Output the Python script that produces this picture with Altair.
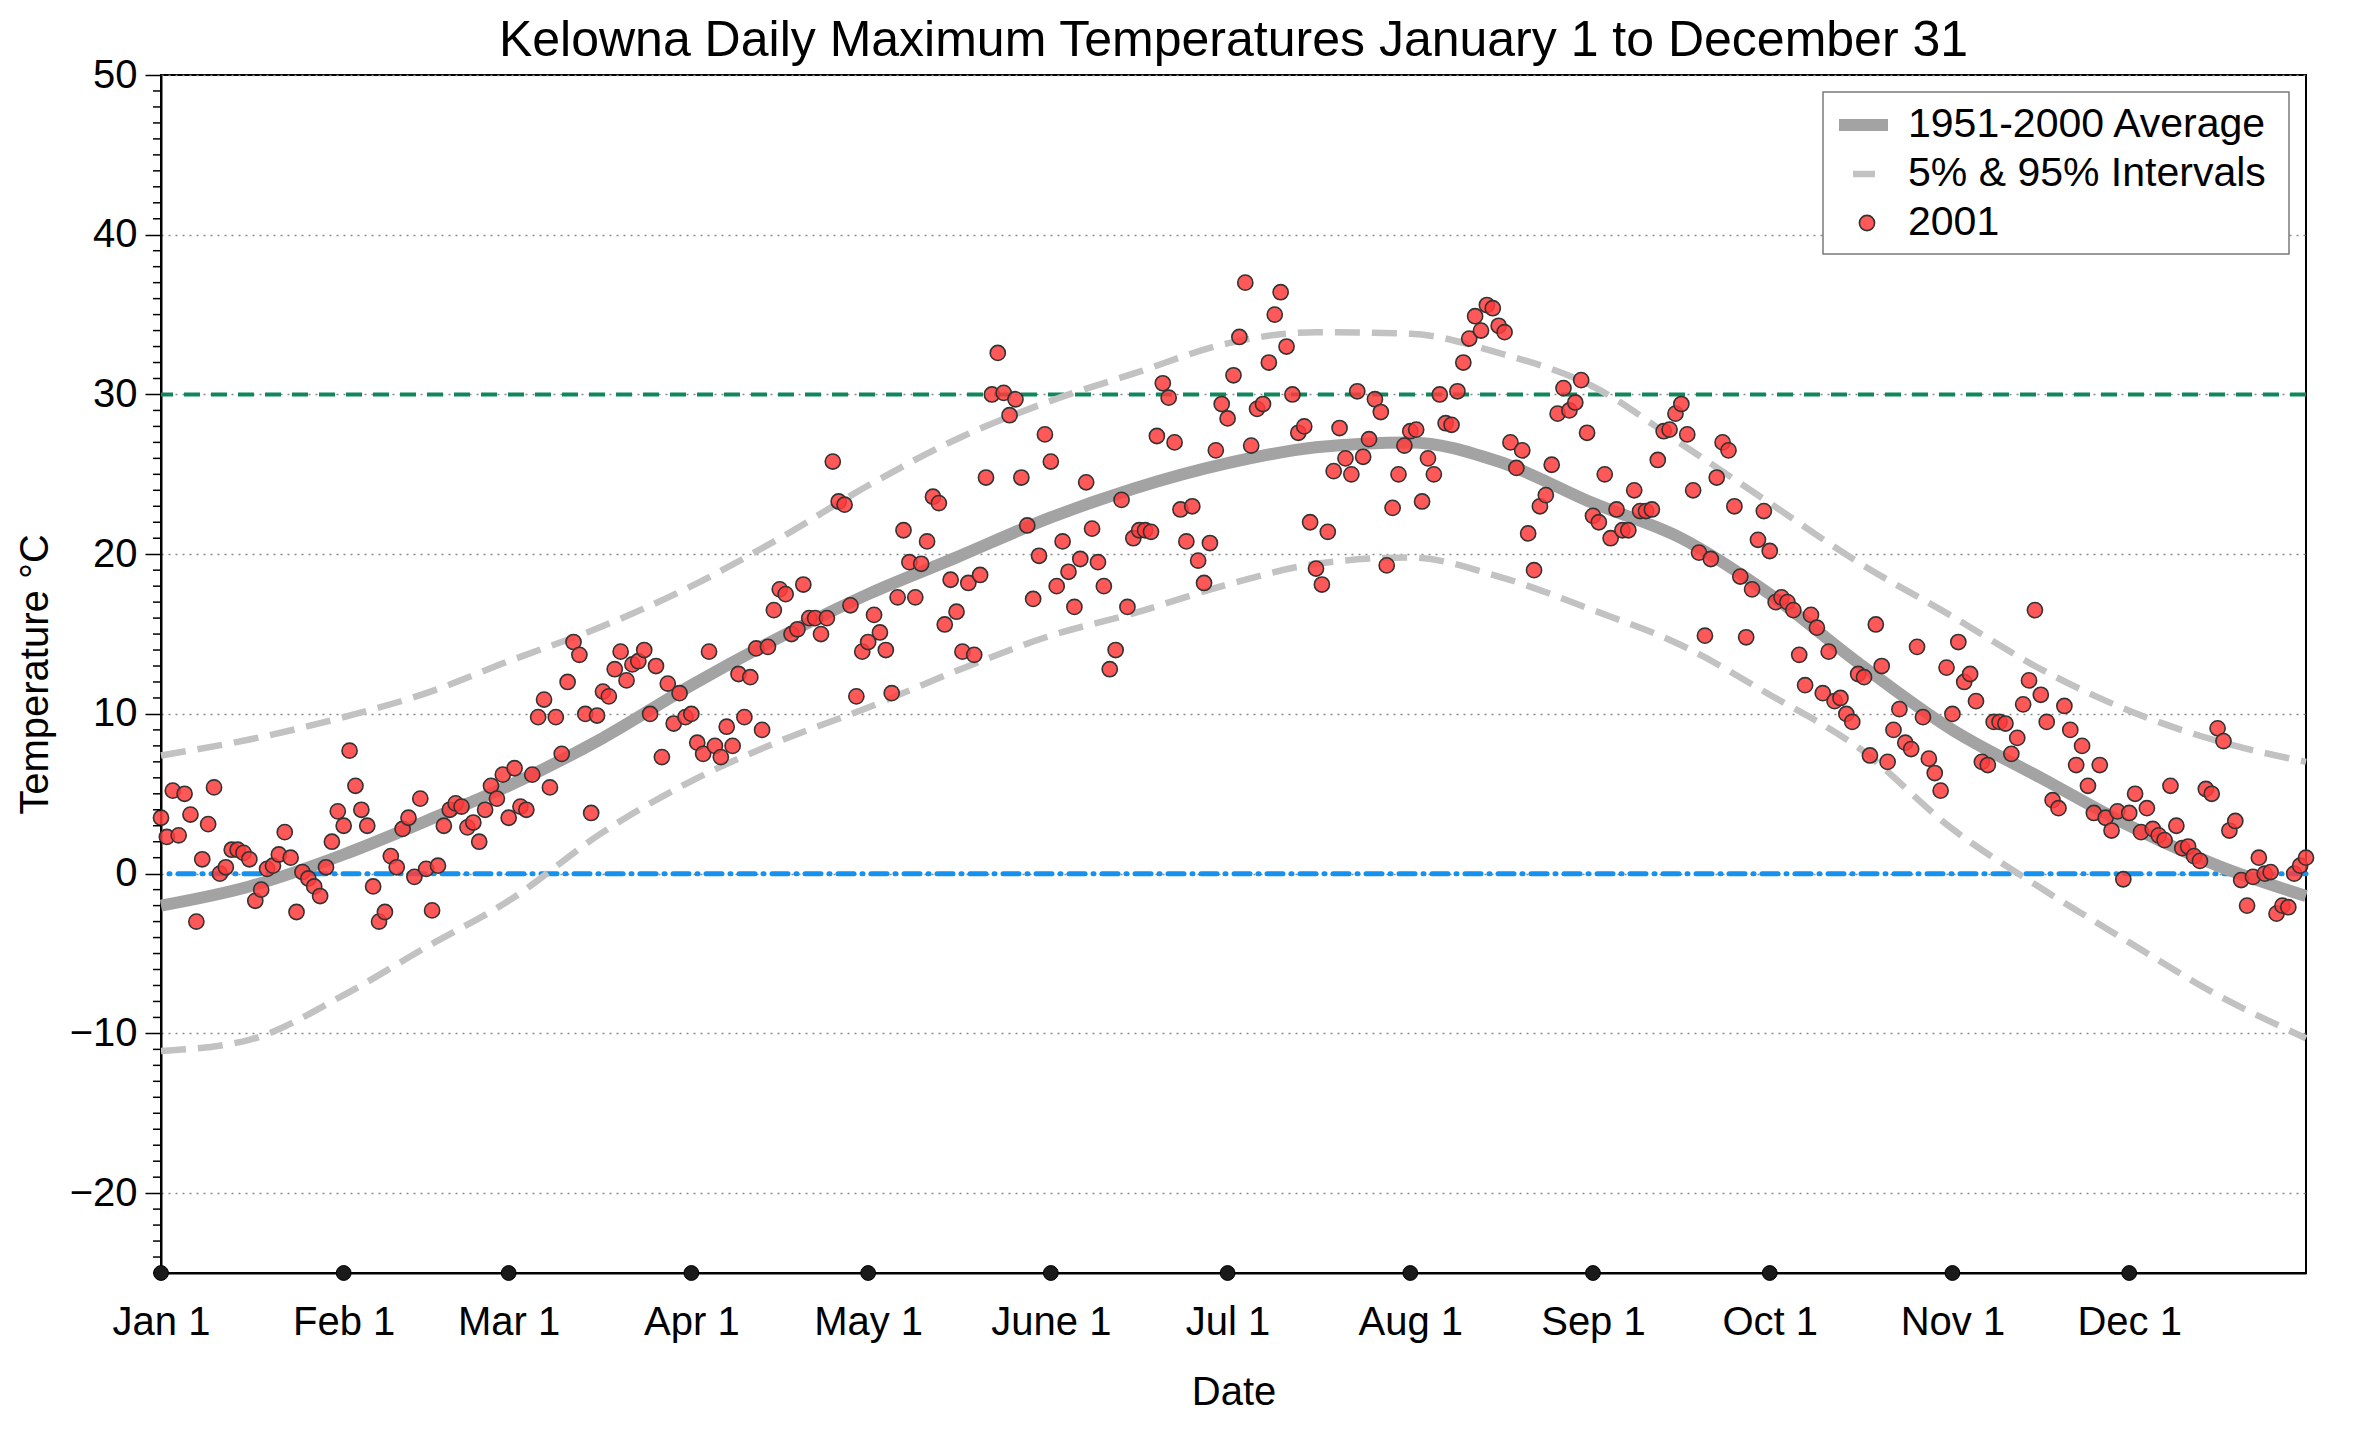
import altair as alt
import pandas as pd

# axis ticks along the bottom
month_starts = [0, 31, 59, 90, 120, 151, 181, 212, 243, 273, 304, 334]
month_labels = ["Jan 1", "Feb 1", "Mar 1", "Apr 1", "May 1", "June 1",
                "Jul 1", "Aug 1", "Sep 1", "Oct 1", "Nov 1", "Dec 1"]

# 1951-2000 climatology at a few days of the year
curve_days = [0, 15, 31, 45, 59, 75, 90, 105, 120, 135, 151, 165, 181,
              196, 212, 227, 243, 258, 273, 288, 304, 319, 334, 349, 364]
avg = [-2.0, -0.8, 1.2, 3.3, 5.5, 8.5, 11.8, 14.8, 17.5, 19.8, 22.3, 24.1, 25.7,
       26.7, 27.0, 25.8, 23.2, 21.0, 17.5, 13.2, 9.0, 6.0, 3.0, 0.5, -1.4]
p95 = [7.4, 8.4, 9.8, 11.3, 13.3, 15.5, 18.0, 21.0, 24.3, 27.2, 29.6, 31.3, 33.2,
       33.9, 33.8, 32.6, 30.5, 26.9, 23.2, 19.5, 16.1, 12.8, 10.2, 8.3, 7.0]
p05 = [-11.1, -10.4, -7.6, -4.6, -1.7, 2.6, 5.8, 8.3, 10.4, 12.7, 14.9, 16.3, 18.1,
       19.4, 19.8, 18.6, 16.5, 14.3, 11.2, 7.9, 2.8, -0.9, -4.3, -7.6, -10.3]

# 2001 daily maxima, by month
jan = [3.5, 2.3, 5.2, 2.4, 5.0, 3.7, -3.0, 0.9, 3.1, 5.4, 0.0, 0.4, 1.5, 1.5, 1.3, 0.9,
       -1.7, -1.0, 0.3, 0.5, 1.2, 2.6, 1.0, -2.4, 0.1, -0.3, -0.8, -1.4, 0.4, 2.0, 3.9]
feb = [3.0, 7.7, 5.5, 4.0, 3.0, -0.8, -3.0, -2.4, 1.1, 0.4, 2.8, 3.5, -0.2, 4.7, 0.3,
       -2.3, 0.5, 3.0, 4.0, 4.4, 4.2, 2.9, 3.2, 2.0, 4.0, 5.5, 4.7, 6.2]
mar = [3.5, 6.6, 4.2, 4.0, 6.2, 9.8, 10.9, 5.4, 9.8, 7.5, 12.0, 14.5, 13.7, 10.0, 3.8,
       9.9, 11.4, 11.1, 12.8, 13.9, 12.1, 13.1, 13.3, 14.0, 10.0, 13.0, 7.3, 11.9, 9.4,
       11.3, 9.8]
apr = [10.0, 8.2, 7.5, 13.9, 8.0, 7.3, 9.2, 8.0, 12.5, 9.8, 12.3, 14.1, 9.0, 14.2, 16.5,
       17.8, 17.5, 15.0, 15.3, 18.1, 16.0, 16.0, 15.0, 16.0, 25.8, 23.3, 23.1, 16.8, 11.1,
       13.9]
may = [14.5, 16.2, 15.1, 14.0, 11.3, 17.3, 21.5, 19.5, 17.3, 19.4, 20.8, 23.6, 23.2, 15.6,
       18.4, 16.4, 13.9, 18.2, 13.7, 18.7, 24.8, 30.0, 32.6, 30.1, 28.7, 29.7, 24.8, 21.8,
       17.2, 19.9, 27.5]
jun = [25.8, 18.0, 20.8, 18.9, 16.7, 19.7, 24.5, 21.6, 19.5, 18.0, 12.8, 14.0, 23.4, 16.7,
       21.0, 21.5, 21.5, 21.4, 27.4, 30.7, 29.8, 27.0, 22.8, 20.8, 23.0, 19.6, 18.2, 20.7,
       26.5, 29.4]
jul = [28.5, 31.2, 33.6, 37.0, 26.8, 29.1, 29.4, 32.0, 35.0, 36.4, 33.0, 30.0, 27.6, 28.0,
       22.0, 19.1, 18.1, 21.4, 25.2, 27.9, 26.0, 25.0, 30.2, 26.1, 27.2, 29.7, 28.9, 19.3,
       22.9, 25.0, 26.8]
aug = [27.7, 27.8, 23.3, 26.0, 25.0, 30.0, 28.2, 28.1, 30.2, 32.0, 33.5, 34.9, 34.0, 35.6,
       35.4, 34.3, 33.9, 27.0, 25.4, 26.5, 21.3, 19.0, 23.0, 23.7, 25.6, 28.8, 30.4, 29.0,
       29.5, 30.9, 27.6]
sep = [22.4, 22.0, 25.0, 21.0, 22.8, 21.5, 21.5, 24.0, 22.7, 22.7, 22.8, 25.9, 27.7, 27.8,
       28.8, 29.4, 27.5, 24.0, 20.1, 14.9, 19.7, 24.8, 27.0, 26.5, 23.0, 18.6, 14.8, 17.8,
       20.9, 22.7]
oct = [20.2, 17.0, 17.3, 17.0, 16.5, 13.7, 11.8, 16.2, 15.4, 11.3, 13.9, 10.8, 11.0, 10.0,
       9.5, 12.5, 12.3, 7.4, 15.6, 13.0, 7.0, 9.0, 10.3, 8.2, 7.8, 14.2, 9.8, 7.2, 6.3, 5.2,
       12.9]
nov = [10.0, 14.5, 12.0, 12.5, 10.8, 7.0, 6.8, 9.5, 9.5, 9.4, 7.5, 8.5, 10.6, 12.1, 16.5,
       11.2, 9.5, 4.6, 4.1, 10.5, 9.0, 6.8, 8.0, 5.5, 3.8, 6.8, 3.5, 2.7, 3.9, -0.35]
dec = [3.8, 5.0, 2.6, 4.1, 2.8, 2.4, 2.1, 5.5, 3.0, 1.6, 1.7, 1.1, 0.8, 5.3, 5.0, 9.1, 8.3,
       2.7, 3.3, -0.4, -2.0, -0.2, 1.0, 0.0, 0.1, -2.5, -2.0, -2.1, 0.0, 0.5, 1.0]

title_text = "Kelowna Daily Maximum Temperatures January 1 to December 31"
legend_labels = ["1951-2000 Average", "5% & 95% Intervals", "2001"]

temps = jan + feb + mar + apr + may + jun + jul + aug + sep + oct + nov + dec
obs = pd.DataFrame({"day": list(range(len(temps))), "temp": temps})
curves = pd.DataFrame({"day": curve_days, "avg": avg, "p95": p95, "p05": p05})
ticks = pd.DataFrame({"day": month_starts, "floor": -25})
minor = pd.DataFrame({"v": [v for v in range(-25, 51) if v % 10 != 0]})
one = pd.DataFrame({"a": [0]})

W, H = 2145, 1198
FONT = "Liberation Sans"

xs = alt.Scale(domain=[0, 364], nice=False, zero=False)
ys = alt.Scale(domain=[-25, 50], nice=False, zero=False)

label_expr = "{}[indexof({}, datum.value)]".format(
    "[" + ",".join("'%s'" % m for m in month_labels) + "]", month_starts)

x_axis = alt.Axis(values=month_starts, labelExpr=label_expr, ticks=False,
                  grid=False, domainColor="black", domainWidth=2,
                  labelFontSize=40, labelColor="black", labelPadding=49,
                  labelBaseline="middle", labelFont=FONT, labelFlush=False,
                  labelOverlap=False,
                  title="Date", titleFontSize=40, titleFontWeight="normal",
                  titleColor="black", titleFont=FONT, titlePadding=30)
y_axis = alt.Axis(values=list(range(-20, 51, 10)), format="d", tickSize=16,
                  tickWidth=1.5, tickColor="black", domainColor="black", domainWidth=2,
                  labelFontSize=40, labelColor="black", labelPadding=8, labelFont=FONT,
                  labelFlush=False,
                  grid=True, gridColor="#8a8a8a", gridDash=[2, 5], gridWidth=1.5,
                  title="Temperature °C", titleFontSize=40, titleFontWeight="normal",
                  titleColor="black", titleFont=FONT, titlePadding=14)

# every layer carries the same axis definitions, so they merge into one
X = alt.X("day:Q", scale=xs, axis=x_axis, title="Date")


def Y(field):
    return alt.Y(field, type="quantitative", scale=ys, axis=y_axis, title="Temperature °C")


hot = alt.Chart(pd.DataFrame({"v": [30]})).mark_rule(
    color="#10875a", strokeWidth=4, strokeDash=[16, 11]).encode(y=Y("v"))
freeze = alt.Chart(pd.DataFrame({"v": [0]})).mark_rule(
    color="#1591ef", strokeWidth=5, strokeDash=[16, 8, 1, 8], strokeCap="round").encode(
    y=Y("v"))


def dashed(col):
    return alt.Chart(curves).mark_line(color="#c2c2c2", strokeWidth=6.5, strokeDash=[25, 12],
                                       interpolate="monotone").encode(x=X, y=Y(col))


mean = alt.Chart(curves).mark_line(color="#a3a3a3", strokeWidth=12,
                                   interpolate="monotone").encode(x=X, y=Y("avg"))

points = alt.Chart(obs).mark_circle(size=230, opacity=1, fill="#ff3b3b", fillOpacity=0.85,
                                    stroke="#333333", strokeWidth=1.6).encode(
    x=X, y=Y("temp"))

minor_ticks = alt.Chart(minor).mark_rule(color="black", strokeWidth=1.5).encode(
    y=Y("v"), x=alt.value(-8), x2=alt.value(0))

tick_dots = alt.Chart(ticks).mark_point(filled=True, size=220, color="#1a1a1a",
                                        opacity=1, stroke="black", strokeWidth=1).encode(
    x=X, y=Y("floor"))

# chart title, placed above the plot frame
title = alt.Chart(one).mark_text(align="center", baseline="middle", fontSize=50, font=FONT,
                                 color="black").encode(
    x=alt.value(W / 2), y=alt.value(-34), text=alt.value(title_text))

# legend, drawn by hand in the top-right corner
leg_box = alt.Chart(one).mark_rect(fill="white", stroke="#7a7a7a", strokeWidth=1.5).encode(
    x=alt.value(1662), x2=alt.value(2128), y=alt.value(17), y2=alt.value(179))
leg_avg = alt.Chart(one).mark_rule(color="#a3a3a3", strokeWidth=12).encode(
    x=alt.value(1678), x2=alt.value(1727), y=alt.value(50))
leg_int = alt.Chart(one).mark_rule(color="#c2c2c2", strokeWidth=6.5).encode(
    x=alt.value(1692), x2=alt.value(1714), y=alt.value(99))
leg_pt = alt.Chart(one).mark_circle(size=230, opacity=1, fill="#ff3b3b", fillOpacity=0.85,
                                    stroke="#333333", strokeWidth=1.6).encode(
    x=alt.value(1706), y=alt.value(148))
leg_txt = [
    alt.Chart(one).mark_text(align="left", baseline="middle", fontSize=41, font=FONT,
                             color="black").encode(
        x=alt.value(1747), y=alt.value(50 + i * 49), text=alt.value(lab))
    for i, lab in enumerate(legend_labels)
]

chart = alt.layer(
    hot, freeze, dashed("p95"), dashed("p05"), mean, points,
    minor_ticks, tick_dots, title, leg_box, leg_avg, leg_int, leg_pt, *leg_txt,
).properties(
    width=W, height=H,
    autosize=alt.AutoSizeParams(type="none"),
    padding={"left": 153, "top": 67, "right": 40, "bottom": 140},
).configure_view(stroke="black", strokeWidth=2)

chart.save("out.html", embed_options={"renderer": "svg", "actions": False})
